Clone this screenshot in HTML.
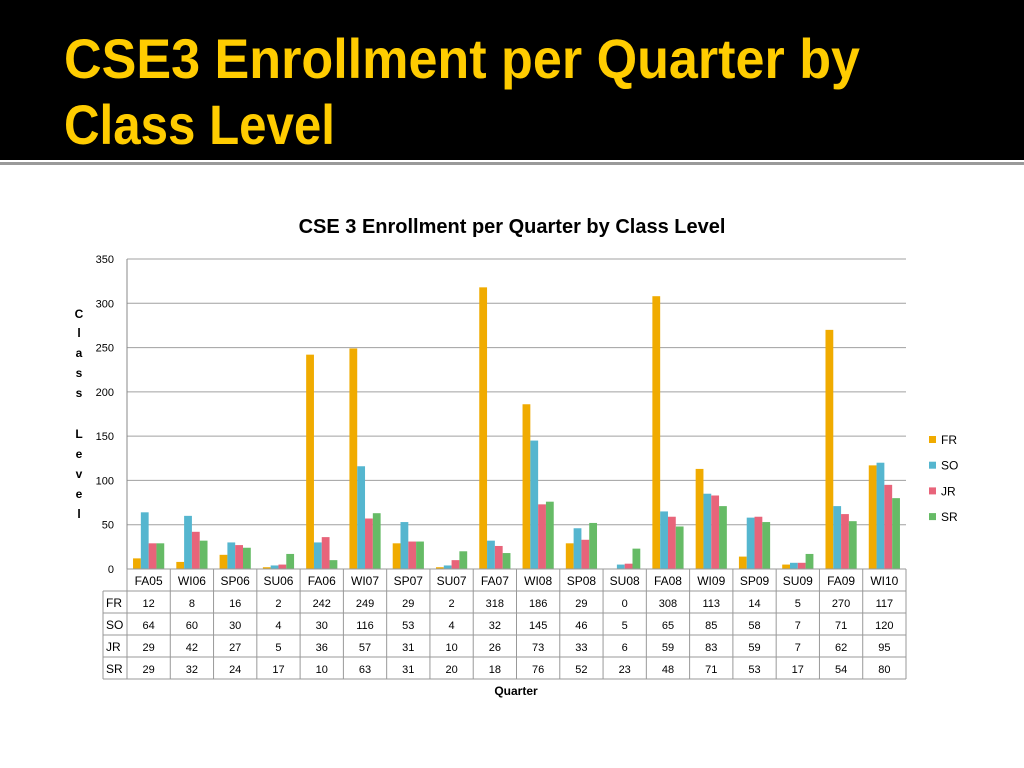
<!DOCTYPE html>
<html><head><meta charset="utf-8"><style>
html,body{margin:0;padding:0;background:#fff;}
svg{display:block;}
</style></head><body>
<svg id="c" width="1024" height="768" xmlns="http://www.w3.org/2000/svg" font-family="Liberation Sans, sans-serif">
<rect x="0" y="0" width="1024" height="160" fill="#000"/>
<rect x="0" y="162" width="1024" height="3" fill="#9a9a9a"/>
<g fill="#FFCC00" font-weight="bold" font-size="56">
<text x="64" y="78" textLength="796" lengthAdjust="spacingAndGlyphs">CSE3 Enrollment per Quarter by</text>
<text x="64" y="144" textLength="271" lengthAdjust="spacingAndGlyphs">Class Level</text>
</g>
<text x="512" y="233" text-anchor="middle" font-size="20" font-weight="bold" fill="#000">CSE 3 Enrollment per Quarter by Class Level</text>
<g id="ytitle" font-size="12" font-weight="bold" fill="#000" text-anchor="middle"></g>
<g id="grid"></g><g id="bars"></g><g id="table"></g><g id="legend"></g>
<text x="516" y="695" text-anchor="middle" font-size="12" font-weight="bold">Quarter</text>
</svg>
<script>
const categories=["FA05","WI06","SP06","SU06","FA06","WI07","SP07","SU07","FA07","WI08","SP08","SU08","FA08","WI09","SP09","SU09","FA09","WI10"];
const seriesNames=["FR","SO","JR","SR"];
const FR=[12,8,16,2,242,249,29,2,318,186,29,0,308,113,14,5,270,117];
const SO=[64,60,30,4,30,116,53,4,32,145,46,5,65,85,58,7,71,120];
const JR=[29,42,27,5,36,57,31,10,26,73,33,6,59,83,59,7,62,95];
const SR=[29,32,24,17,10,63,31,20,18,76,52,23,48,71,53,17,54,80];
const yTicks=[0,50,100,150,200,250,300,350];
const colors=["#F0AB00","#55B6CF","#E8647A","#66BB66"];
const NS="http://www.w3.org/2000/svg";
const L=127,R=906,T=259,B=569,YMAX=350;
const cw=(R-L)/categories.length;
const y=v=>B-(v/YMAX)*(B-T);
const x=i=>L+i*cw;
function mk(tag,attrs,parent,txt){const e=document.createElementNS(NS,tag);for(const k in attrs)e.setAttribute(k,attrs[k]);if(txt!==undefined)e.textContent=txt;parent.appendChild(e);return e;}
const grid=document.getElementById('grid');
yTicks.forEach(t=>{
 const ln=mk('line',{x1:L,x2:R,y1:y(t),y2:y(t),stroke:'#a0a0a0','stroke-width':1},grid);
 
 
 const tx=mk('text',{x:114,y:y(t)+4,'text-anchor':'end','font-size':11},grid,t);
 
 
});
const ax=mk('line',{x1:L,x2:L,y1:T,y2:B,stroke:'#888'},grid);


const bars=document.getElementById('bars');
const data=[FR,SO,JR,SR];
const bw=7.8;
data.forEach((s,si)=>{s.forEach((v,i)=>{
 const r=mk('rect',{x:x(i)+cw/2-2*bw+si*bw,y:y(v),width:bw,height:B-y(v),fill:colors[si]},bars);
 
 
});});
const tb=document.getElementById('table');
const rowsY=[569,591,613,635,657,679];
rowsY.forEach((ry,k)=>{const l=mk('line',{x1:k==0?L:103,x2:R,y1:ry,y2:ry,stroke:'#999'},tb);
 
 });
for(let i=0;i<=categories.length;i++){const l=mk('line',{x1:x(i),x2:x(i),y1:569,y2:679,stroke:'#999'},tb);
 
 }
const lb=mk('line',{x1:103,x2:103,y1:591,y2:679,stroke:'#999'},tb);


categories.forEach((c,i)=>{const t=mk('text',{x:x(i)+cw/2,y:585,'text-anchor':'middle','font-size':12},tb,c);
 
 });
data.forEach((s,si)=>{
 const h=mk('text',{x:106,y:rowsY[si+1]+16,'font-size':12},tb,seriesNames[si]);
 
 
 s.forEach((v,i)=>{const t=mk('text',{x:x(i)+cw/2,y:rowsY[si+1]+16,'text-anchor':'middle','font-size':11},tb,v);
 
 });
});
const lg=document.getElementById('legend');
seriesNames.forEach((n,si)=>{const yy=440+si*25.7;
 const r=mk('rect',{x:929,y:yy-4,width:7,height:7,fill:colors[si]},lg);
 
 
 const t=mk('text',{x:941,y:yy+4,'font-size':12},lg,n);
 
 });
const yt=document.getElementById('ytitle');
const letters=[["C",318],["l",337],["a",357],["s",377],["s",397],["L",438],["e",458],["v",478],["e",498],["l",518]];
letters.forEach(([ch,yy])=>{const t=mk('text',{x:79,y:yy},yt,ch);
 
 });
</script>
</body></html>
